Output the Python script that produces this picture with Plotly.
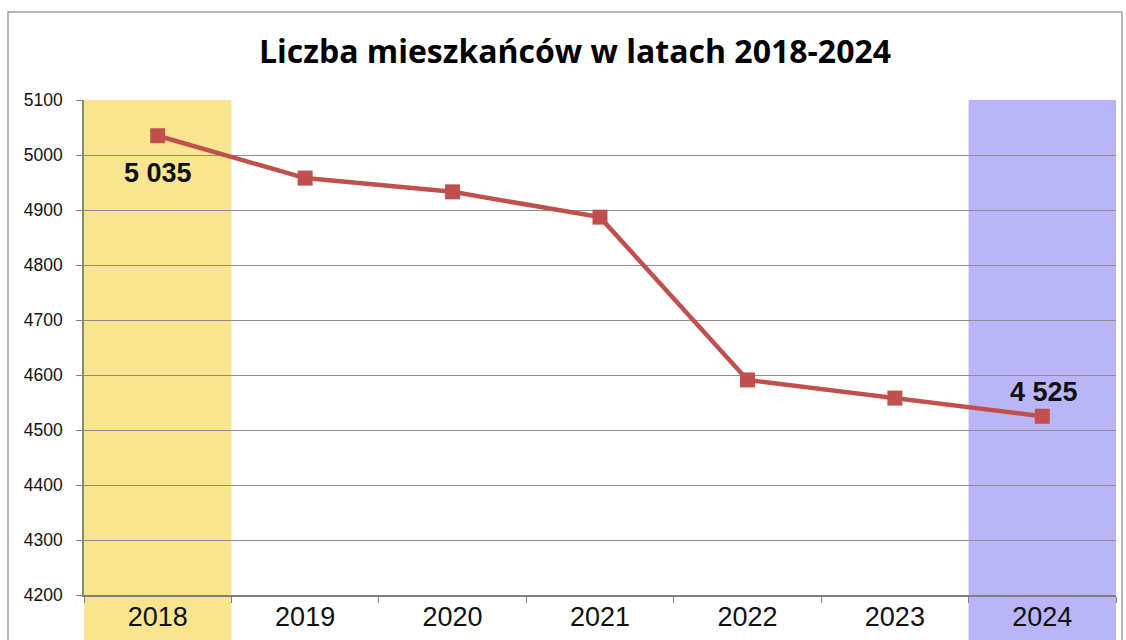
import plotly.graph_objects as go

years = ["2018", "2019", "2020", "2021", "2022", "2023", "2024"]
residents = [5035, 4958, 4933, 4887, 4591, 4558, 4525]
labelled = {"2018": -37, "2024": 24}
y_ticks = list(range(4200, 5101, 100))

W, H = 1126, 640
L, R, T, B = 84, 10, 100, 45
pw, ph = W - L - R, H - T - B

def px_x(p):
    return (p - L) / pw

def px_y(p):
    return (H - B - p) / ph

fig = go.Figure()
fig.add_trace(go.Scatter(
    x=years, y=residents, mode="lines+markers",
    line=dict(color="#C0504D", width=4.5),
    marker=dict(symbol="square", size=15, color="#C0504D"),
    cliponaxis=False, showlegend=False, hoverinfo="x+y",
))

annotations = []
for i, (yr, v) in enumerate(zip(years, residents)):
    if yr in labelled:
        annotations.append(dict(
            x=i, y=v, xref="x", yref="y", showarrow=False,
            text="<b>" + f"{v:,}".replace(",", " ") + "</b>", yshift=labelled[yr],
            xshift=2 if yr == "2024" else 0,
            font=dict(family="Liberation Sans, Arial", size=27, color="#111111"),
        ))

shapes = [
    dict(type="rect", xref="x", yref="paper", x0=-0.5, x1=0.5, y0=px_y(640), y1=1,
         fillcolor="#F9E58F", line=dict(width=0), layer="below"),
    dict(type="rect", xref="x", yref="paper", x0=5.5, x1=6.5, y0=px_y(640), y1=1,
         fillcolor="#BAB5F7", line=dict(width=0), layer="below"),
    dict(type="rect", xref="paper", yref="paper", x0=px_x(8), x1=px_x(1122), y0=px_y(660), y1=px_y(12),
         fillcolor="rgba(0,0,0,0)", line=dict(color="#A0A0A0", width=1.5), layer="below"),
]

fig.update_layout(
    width=W, height=H,
    margin=dict(l=L, r=R, t=T, b=B, autoexpand=False),
    paper_bgcolor="white", plot_bgcolor="rgba(0,0,0,0)",
    title=dict(text="<b>Liczba mieszkańców w latach 2018-2024</b>", x=575 / W, xanchor="center",
               xref="container",
               y=1 - 52 / H, yanchor="middle",
               font=dict(family="Open Sans, Noto Sans", size=32, color="#000000")),
    shapes=shapes,
    annotations=annotations,
)
fig.update_xaxes(
    type="category", range=[-0.5, 6.5], tickson="boundaries", ticks="outside", ticklen=6,
    tickcolor="#7F7F7F", showgrid=False, showline=True, linecolor="#7F7F7F", linewidth=1.5,
    tickfont=dict(family="Liberation Sans, Arial", size=27, color="#111111"), automargin=False,
    ticklabelstandoff=-3,
)
fig.update_yaxes(
    range=[4200, 5100], tickvals=y_ticks, ticktext=[str(v) for v in y_ticks],
    ticks="outside", ticklen=6, tickcolor="#7F7F7F",
    showgrid=True, gridcolor="#8C8C8C", gridwidth=1.2,
    showline=True, linecolor="#8A8A6A", linewidth=1.5, zeroline=False,
    tickfont=dict(family="Liberation Sans, Arial", size=17.5, color="#111111"), automargin=False,
    ticklabelstandoff=10,
)

fig.write_html("out.html", config={"displayModeBar": False},
               post_script="document.body.style.margin='0';document.body.style.overflow='hidden';")
